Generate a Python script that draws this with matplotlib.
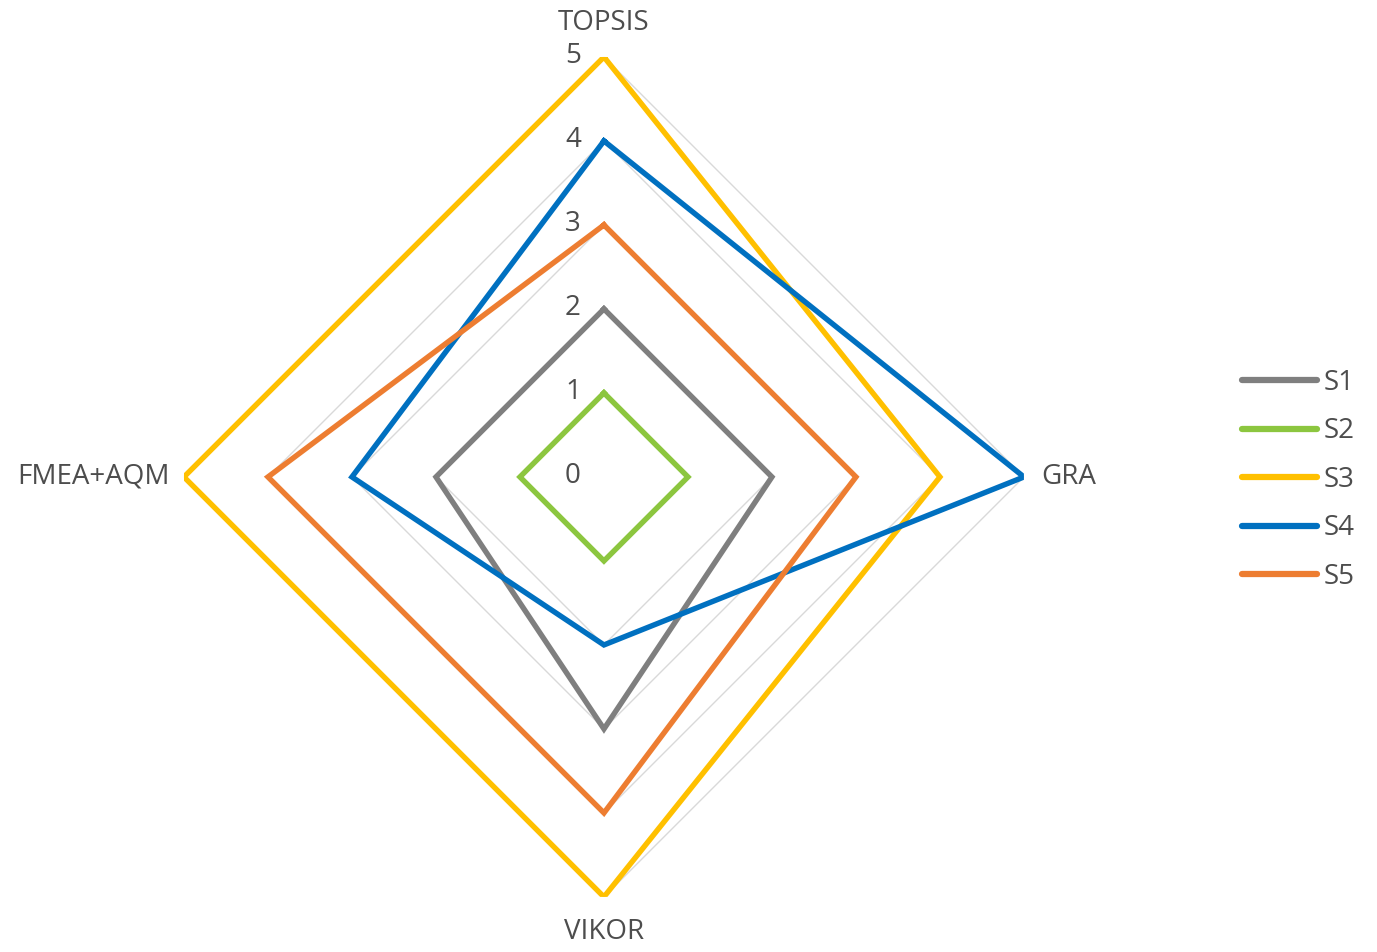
import numpy as np
import matplotlib.pyplot as plt

# --- data ---
methods = ["TOPSIS", "GRA", "VIKOR", "FMEA+AQM"]
series_names = ["S1", "S2", "S3", "S4", "S5"]
s1 = [2, 2, 3, 2]
s2 = [1, 1, 1, 1]
s3 = [5, 4, 5, 5]
s4 = [4, 5, 2, 3]
s5 = [3, 3, 4, 4]
levels = [0, 1, 2, 3, 4, 5]

colors = ["#7f7f7f", "#8cc63f", "#ffc000", "#0070c0", "#ed7d31"]
text_color = "#4d4d4d"
fs = 20

plt.rcParams['font.family'] = ['Open Sans', 'DejaVu Sans']

fig = plt.figure(figsize=(13.77, 9.52), dpi=100)
ax = fig.add_axes([0.1336, 0.0578, 0.61, 0.8824], projection="polar")
ax.set_theta_zero_location("N")
ax.set_theta_direction(-1)

theta = np.linspace(0, 2 * np.pi, len(methods), endpoint=False)
theta_closed = np.append(theta, theta[0])

# --- grid diamonds ---
for lv in levels[1:]:
    ax.plot(theta_closed, [lv] * (len(methods) + 1), color="#d9d9d9", lw=1.0, zorder=1)

# --- series ---
for name, vals, c in zip(series_names, [s1, s2, s3, s4, s5], colors):
    v = np.append(vals, vals[0])
    ax.plot(theta_closed, v, color=c, lw=3.9, label=name, zorder=3,
            solid_joinstyle="miter")

ax.set_ylim(0, 5)
ax.grid(False)
ax.set_xticks([])
ax.set_yticks([])
ax.spines["polar"].set_visible(False)
ax.patch.set_alpha(0)

# --- value labels along the top axis ---
for lv in levels:
    ax.annotate(str(lv), xy=(0, lv), xytext=(-31, 1), textcoords="offset pixels",
                ha="center", va="center", fontsize=fs, color=text_color)

# --- axis names ---
ax.annotate(methods[0], xy=(theta[0], 5), xytext=(0, 34), textcoords="offset pixels",
            ha="center", va="center", fontsize=fs, color=text_color)
ax.annotate(methods[1], xy=(theta[1], 5), xytext=(17, 0), textcoords="offset pixels",
            ha="left", va="center", fontsize=fs, color=text_color)
ax.annotate(methods[2], xy=(theta[2], 5), xytext=(0, -35), textcoords="offset pixels",
            ha="center", va="center", fontsize=fs, color=text_color)
ax.annotate(methods[3], xy=(theta[3], 5), xytext=(-14, 0), textcoords="offset pixels",
            ha="right", va="center", fontsize=fs, color=text_color)

# --- legend ---
leg = fig.legend(loc="center left", bbox_to_anchor=(0.884, 0.496), frameon=False,
                 fontsize=fs, handlelength=2.7, handletextpad=0.22, labelspacing=0.735)
for t in leg.get_texts():
    t.set_color(text_color)
for h in leg.get_lines():
    h.set_linewidth(4.5)
    h.set_solid_capstyle("round")

fig.savefig("out.png", dpi=100)
